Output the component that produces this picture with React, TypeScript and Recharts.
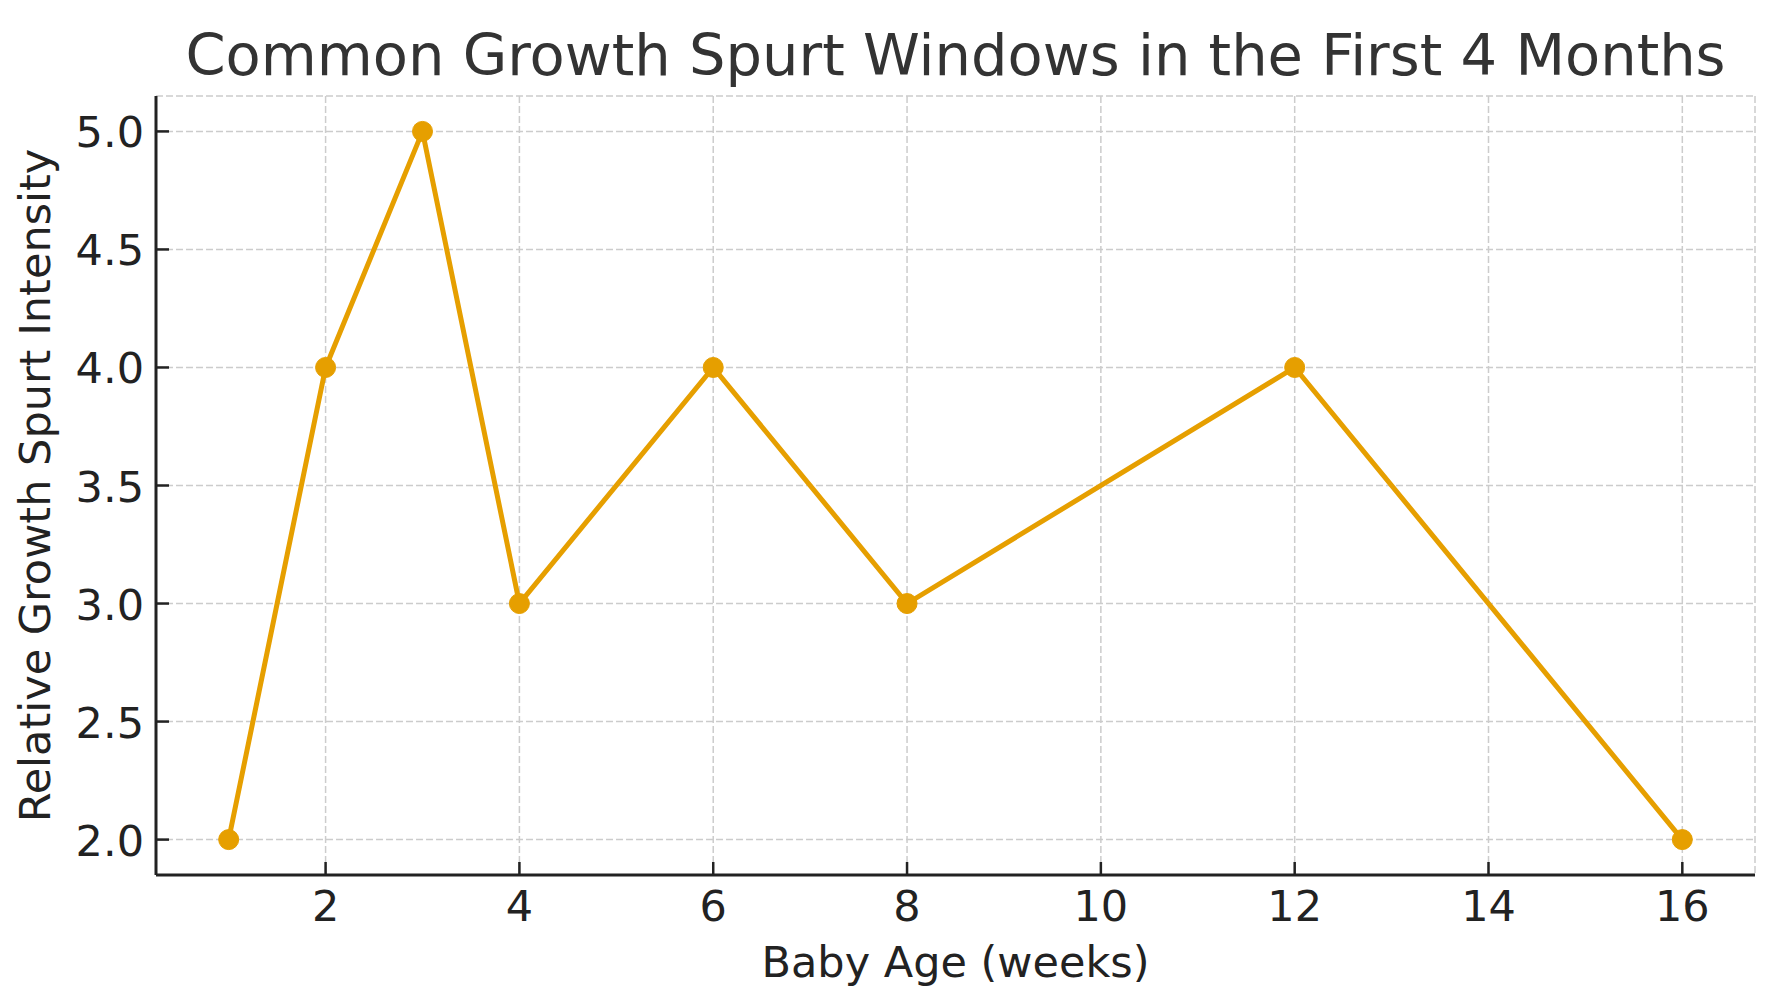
import React from 'react';
import { LineChart, Line, XAxis, YAxis, CartesianGrid } from 'recharts';

const weeks = [1, 2, 3, 4, 6, 8, 12, 16];
const intensity = [2, 4, 5, 3, 4, 3, 4, 2];
const xTicks = [2, 4, 6, 8, 10, 12, 14, 16];
const yTicks = [2.0, 2.5, 3.0, 3.5, 4.0, 4.5, 5.0];

const data = weeks.map((week, i) => ({ week, value: intensity[i] }));

const FONT = '"DejaVu Sans", Verdana, sans-serif';
const ORANGE = '#E69F00';
const INK = '#222222';

function XTick(props: any) {
  const { x, y, payload } = props;
  return (
    <g>
      <line x1={x} y1={y - 13} x2={x} y2={y} stroke={INK} strokeWidth={2.5} />
      <text x={x} y={y + 46} textAnchor="middle" fontSize={43} fill={INK} fontFamily={FONT}>
        {payload.value}
      </text>
    </g>
  );
}

function YTick(props: any) {
  const { x, y, payload } = props;
  return (
    <g>
      <line x1={x} y1={y} x2={x + 13} y2={y} stroke={INK} strokeWidth={2.5} />
      <text x={x - 12} y={y + 16} textAnchor="end" fontSize={43} fill={INK} fontFamily={FONT}>
        {Number(payload.value).toFixed(1)}
      </text>
    </g>
  );
}

export default function App() {
  return (
    <div style={{ position: 'absolute', left: 0, top: 0, width: 1770, height: 1000, background: '#fff' }}>
      <LineChart
        width={1770}
        height={1000}
        data={data}
        margin={{ top: 96, right: 15, bottom: 45, left: 56 }}
      >
        <CartesianGrid stroke="#cccccc" strokeWidth={1.5} strokeDasharray="7 3" />
        <XAxis
          dataKey="week"
          type="number"
          domain={[0.25, 16.75]}
          ticks={xTicks}
          height={80}
          tickSize={0}
          tickMargin={0}
          tickLine={false}
          axisLine={{ stroke: INK, strokeWidth: 3 }}
          tick={XTick}
          interval={0}
          allowDataOverflow
        />
        <YAxis
          type="number"
          domain={[1.85, 5.15]}
          ticks={yTicks}
          width={100}
          tickSize={0}
          tickMargin={0}
          tickLine={false}
          axisLine={{ stroke: INK, strokeWidth: 3 }}
          tick={YTick}
          interval={0}
          allowDataOverflow
        />
        <Line
          type="linear"
          dataKey="value"
          stroke={ORANGE}
          strokeWidth={5}
          dot={{ r: 10, fill: ORANGE, stroke: ORANGE, strokeWidth: 1 }}
          activeDot={false}
          isAnimationActive={false}
        />
      </LineChart>
      <svg
        width={1770}
        height={1000}
        style={{ position: 'absolute', left: 0, top: 0, pointerEvents: 'none' }}
      >
        <text x={955.5} y={75} textAnchor="middle" fontSize={57.5} fill="#333333" fontFamily={FONT}>
          Common Growth Spurt Windows in the First 4 Months
        </text>
        <text x={955.5} y={977} textAnchor="middle" fontSize={43} fill={INK} fontFamily={FONT}>
          Baby Age (weeks)
        </text>
        <text
          x={0}
          y={0}
          transform="translate(50, 485.5) rotate(-90)"
          textAnchor="middle"
          fontSize={43}
          fill={INK}
          fontFamily={FONT}
        >
          Relative Growth Spurt Intensity
        </text>
      </svg>
    </div>
  );
}
